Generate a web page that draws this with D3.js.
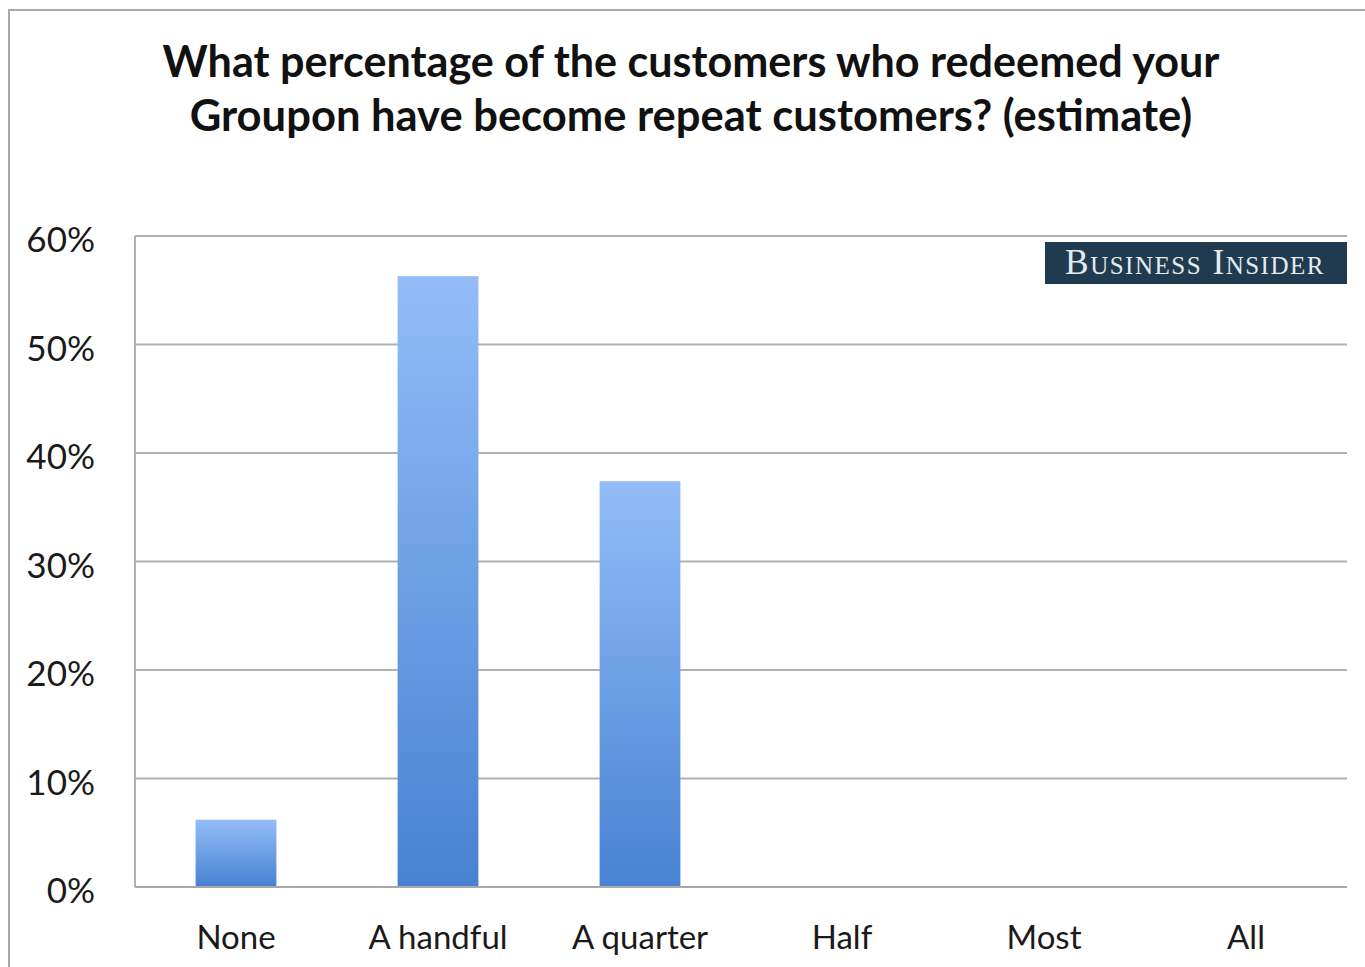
<!DOCTYPE html>
<html>
<head>
<meta charset="utf-8">
<script src="https://cdn.jsdelivr.net/npm/d3@7"></script>
<style>
  html, body { margin: 0; padding: 0; background: #fff; }
  svg { display: block; }
</style>
</head>
<body>
<svg id="chart" width="1365" height="967"></svg>
<script>
// ---- Data ----
const categories = ["None", "A handful", "A quarter", "Half", "Most", "All"];
const values = [6.2, 56.3, 37.4, 0, 0, 0];
const yTicks = [0, 10, 20, 30, 40, 50, 60];
const titleLines = [
  "What percentage of the customers who redeemed your",
  "Groupon have become repeat customers? (estimate)"
];
const brand = "Business Insider";

// ---- Layout ----
const W = 1365, H = 967;
const plot = { left: 135, right: 1347, top: 236, bottom: 887 };
const font = "Lato, 'Open Sans', 'Liberation Sans', sans-serif";

const svg = d3.select("#chart");

// gradient
const defs = svg.append("defs");
const grad = defs.append("linearGradient")
  .attr("id", "barGrad").attr("x1", 0).attr("y1", 0).attr("x2", 0).attr("y2", 1);
grad.append("stop").attr("offset", "0%").attr("stop-color", "#93bcf8");
grad.append("stop").attr("offset", "100%").attr("stop-color", "#4782d2");

// outer frame
svg.append("path")
  .attr("d", `M9,${H} L9,10 L${W},10`)
  .attr("fill", "none").attr("stroke", "#a8a8a8").attr("stroke-width", 2);

// scales
const x = d3.scaleBand().domain(categories)
  .range([plot.left, plot.right]).paddingInner(0.6).paddingOuter(0.3);
const y = d3.scaleLinear().domain([0, 60]).range([plot.bottom, plot.top]);

// gridlines
svg.append("g").selectAll("line").data(yTicks).join("line")
  .attr("x1", plot.left).attr("x2", plot.right)
  .attr("y1", d => y(d)).attr("y2", d => y(d))
  .attr("stroke", "#b0b0b0").attr("stroke-width", 2);

// left axis line
svg.append("line")
  .attr("x1", plot.left).attr("x2", plot.left)
  .attr("y1", y(60)).attr("y2", y(0))
  .attr("stroke", "#b0b0b0").attr("stroke-width", 2);

// bars
svg.append("g").selectAll("rect").data(categories.map((c, i) => ({ c, v: values[i] })).filter(d => d.v > 0))
  .join("rect")
  .attr("x", d => x(d.c))
  .attr("width", x.bandwidth())
  .attr("y", d => y(d.v))
  .attr("height", d => y(0) - y(d.v))
  .attr("fill", "url(#barGrad)");

// baseline redraw on top
svg.append("line")
  .attr("x1", plot.left).attr("x2", plot.right)
  .attr("y1", y(0)).attr("y2", y(0))
  .attr("stroke", "#a8a8a8").attr("stroke-width", 2);

// y axis labels
const yAxis = d3.axisLeft(y).tickValues(yTicks).tickFormat(d => d + "%").tickSize(0).tickPadding(40);
const gy = svg.append("g").attr("transform", `translate(${plot.left},0)`).call(yAxis);
gy.select(".domain").remove();
gy.selectAll("text")
  .attr("font-family", font).attr("font-size", 35).attr("fill", "#1a1a1a")
  .attr("dy", "0.45em");

// x axis labels
const xAxis = d3.axisBottom(x).tickSize(0).tickPadding(39);
const gx = svg.append("g").attr("transform", `translate(0,${plot.bottom})`).call(xAxis);
gx.select(".domain").remove();
gx.selectAll("text")
  .attr("font-family", font).attr("font-size", 33).attr("fill", "#1a1a1a");

// title
const titleBase = [77, 131];
const titleWidths = [1057, 1003];
titleLines.forEach((t, i) => {
  const tx = svg.append("text")
    .attr("x", 691).attr("y", titleBase[i])
    .attr("text-anchor", "middle")
    .attr("font-family", font).attr("font-weight", "bold")
    .attr("font-size", 38).attr("fill", "#111")
    .text(t);
  const w = tx.node().getComputedTextLength();
  tx.attr("font-size", 38 * titleWidths[0] / (i === 0 ? w : w * titleWidths[0] / titleWidths[1]));
});

// brand logo
const logo = svg.append("g");
logo.append("rect")
  .attr("x", 1045).attr("y", 242).attr("width", 302).attr("height", 42)
  .attr("fill", "#203b4f");
const lt = logo.append("text")
  .attr("x", 1195).attr("y", 274)
  .attr("text-anchor", "middle")
  .attr("font-family", "'Liberation Serif', 'DejaVu Serif', serif")
  .attr("font-size", 30)
  .attr("font-variant", "small-caps")
  .attr("letter-spacing", 1.5)
  .attr("fill", "#e4ebef")
  .text(brand);
const lw = lt.node().getComputedTextLength();
lt.attr("font-size", 30 * 262 / lw);
</script>
</body>
</html>
